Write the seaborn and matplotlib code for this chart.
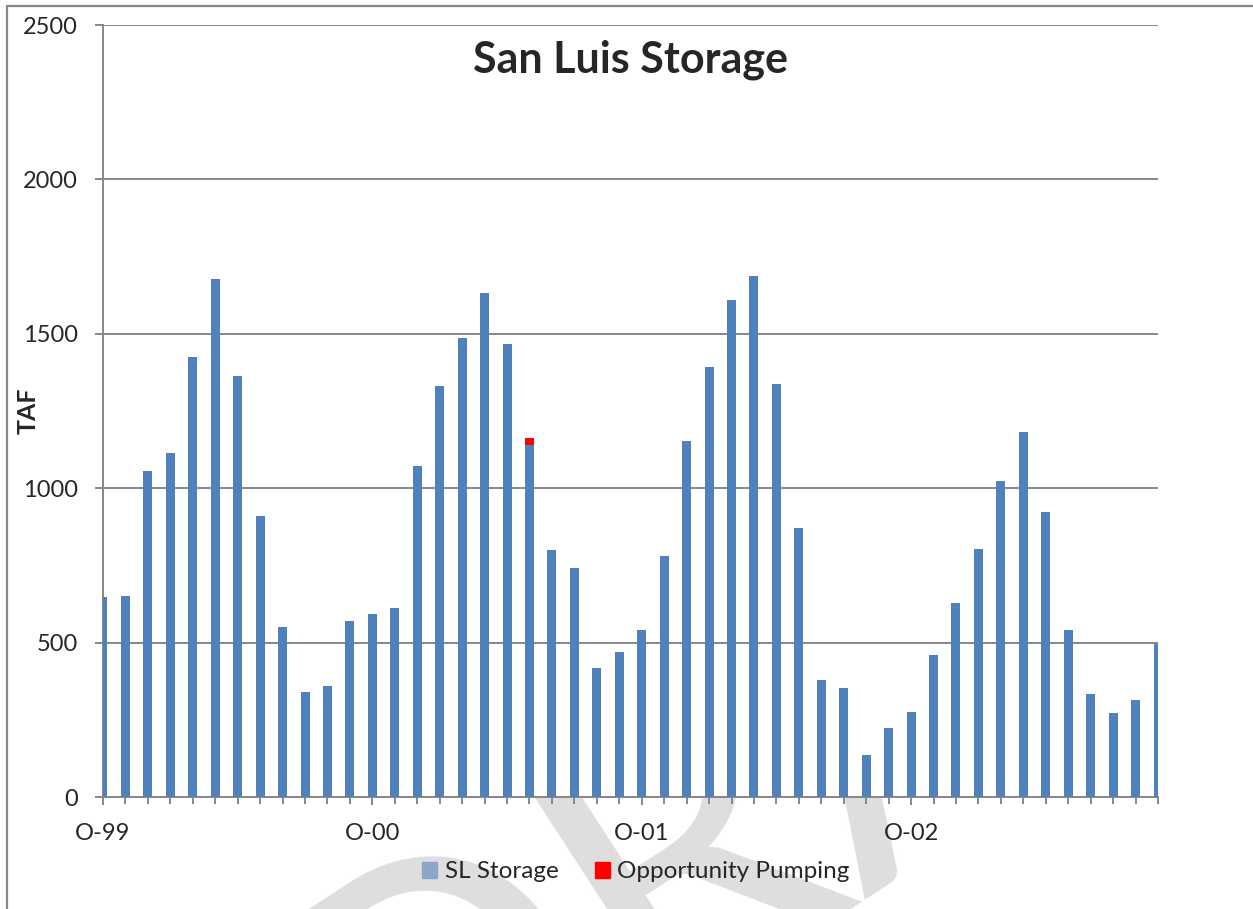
import seaborn as sns
import matplotlib.pyplot as plt
import matplotlib.patches as mpatches
from matplotlib.lines import Line2D
import pandas as pd

# -----------------------
# Data: San Luis storage (TAF), monthly Oct 1999 - Sep 2003
# -----------------------
months = pd.date_range("1999-10-01", periods=48, freq="MS")

sl_storage = [648, 651, 1056, 1114, 1425, 1677, 1363, 910, 550, 340, 359, 570,
              593, 612, 1072, 1332, 1488, 1632, 1467, 1140, 799, 742, 419, 469,
              541, 780, 1153, 1392, 1609, 1687, 1337, 870, 378, 352, 136, 223,
              275, 460, 628, 802, 1024, 1181, 922, 541, 334, 271, 313, 495]

opportunity_pumping = [0, 0, 0, 0, 0, 0, 0, 0, 0, 0, 0, 0,
                       0, 0, 0, 0, 0, 0, 0, 22, 0, 0, 0, 0,
                       0, 0, 0, 0, 0, 0, 0, 0, 0, 0, 0, 0,
                       0, 0, 0, 0, 0, 0, 0, 0, 0, 0, 0, 0]

year_labels = ["O-99", "O-00", "O-01", "O-02"]

df = pd.DataFrame({
    "Month": months.strftime("%Y-%m"),
    "SL Storage": sl_storage,
    "Opportunity Pumping": opportunity_pumping,
})
df["Total"] = df["SL Storage"] + df["Opportunity Pumping"]

# -----------------------
# Style
# -----------------------
sns.set_style("white")
plt.rcParams["font.family"] = ["Lato", "DejaVu Sans"]

GRID = "#878787"
BLUE = "#4F81BD"
RED = "#FF0000"
W, H = 1253, 909

fig = plt.figure(figsize=(W / 100, H / 100), dpi=100)
ax = fig.add_axes([103 / W, 1 - 797 / H, (1158 - 103) / W, (797 - 25) / H])
ax.set_facecolor("white")

# document watermark, sits behind the chart (only shows below the plot area)
wm = fig.text(380 / W, -281 / H, "DRAFT", rotation=33, rotation_mode="anchor",
              fontsize=296, color="#DEDEDE", ha="left", va="baseline", zorder=-5)
wm.set_clip_path(mpatches.Rectangle((0, 0), 1158 / W, 1, transform=fig.transFigure))

# stacked bars: total (red) first, storage (blue) over it
sns.barplot(data=df, x="Month", y="Total", color=RED, width=0.4, linewidth=0,
            saturation=1, errorbar=None, ax=ax, zorder=2)
sns.barplot(data=df, x="Month", y="SL Storage", color=BLUE, width=0.4, linewidth=0,
            saturation=1, errorbar=None, ax=ax, zorder=3)

ax.set_xlim(0, len(df) - 1)
ax.set_ylim(0, 2500)
ax.set_yticks(range(0, 2501, 500))

oct_pos = [i for i, m in enumerate(months) if m.month == 10]
ax.set_xticks(oct_pos)
ax.set_xticklabels(year_labels)
ax.set_xticks(range(len(df)), minor=True)

ax.tick_params(axis="x", which="major", direction="out", length=6, width=1.4,
               color=GRID, labelsize=17, pad=13, bottom=True)
ax.tick_params(axis="x", which="minor", direction="out", length=5, width=1.4,
               color=GRID, bottom=True)
ax.tick_params(axis="y", direction="out", length=6, width=1.4, color=GRID,
               labelsize=17, pad=12, left=True)

ax.set_axisbelow(True)
ax.yaxis.grid(True, color=GRID, linewidth=1.4)
ax.xaxis.grid(False)

for side in ["top", "right"]:
    ax.spines[side].set_visible(False)
for side in ["left", "bottom"]:
    ax.spines[side].set_color(GRID)
    ax.spines[side].set_linewidth(1.4)

ax.set_xlabel("")
ax.set_ylabel("")
fig.text(28 / W, 1 - 411 / H, "TAF", rotation=90, ha="center", va="center",
         fontsize=18, fontweight="bold")

ax.text(0.5, 1 - (72 - 25) / 772, "San Luis Storage", transform=ax.transAxes,
        ha="center", va="baseline", fontsize=31, fontweight="bold")

handles = [
    mpatches.Patch(color="#8DA5C6", label="SL Storage"),
    mpatches.Patch(color=RED, label="Opportunity Pumping"),
]
fig.legend(handles=handles, loc="center", bbox_to_anchor=(636 / W, 1 - 872 / H),
           ncol=2, frameon=False, fontsize=17.5, handlelength=0.62, handleheight=0.62,
           handletextpad=0.3, columnspacing=1.5)

# outer chart border (left and top edges are visible)
fig.add_artist(Line2D([7 / W, 7 / W], [0, 1 - 6 / H], color=GRID, lw=1.6))
fig.add_artist(Line2D([7 / W, 1], [1 - 6 / H, 1 - 6 / H], color=GRID, lw=1.6))

plt.savefig("out.png", dpi=100, pad_inches=0)
plt.close()
